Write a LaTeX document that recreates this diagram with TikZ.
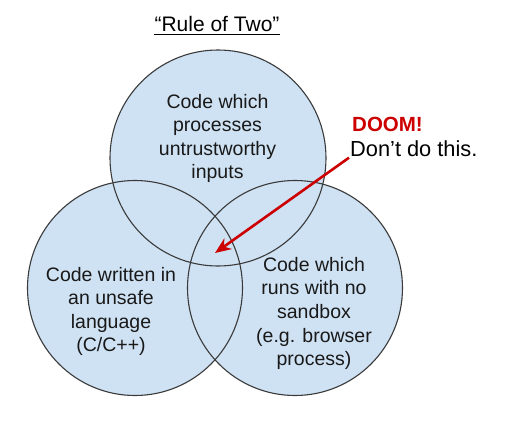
\documentclass[tikz,border=0pt]{standalone}
\usepackage{fontspec}
\setmainfont{Liberation Sans}
\usetikzlibrary{arrows.meta}
\definecolor{vennfill}{HTML}{CFE2F3}
\definecolor{venndraw}{HTML}{3A3A3A}
\definecolor{doomred}{HTML}{CC0000}
\begin{document}
\begin{tikzpicture}[x=1pt,y=-1pt,
  vennfillstyle/.style={fill=vennfill},
  venndrawstyle/.style={draw=venndraw,line width=1.1pt},
  circletext/.style={align=center,inner sep=0pt,text=black!90,font=\fontsize{19.5}{23.6}\selectfont},
  bigtext/.style={inner sep=0pt,font=\fontsize{21}{25}\selectfont},
  doomarrow/.style={draw=doomred,line width=2.6pt,-{Stealth[length=16pt,width=13pt,inset=5pt]}}
]
\useasboundingbox (0,0) rectangle (530,442);
% fills
\fill[vennfillstyle] (218,158) circle[radius=108pt];
\fill[vennfillstyle] (135,288) circle[radius=107.5pt];
\fill[vennfillstyle] (295,288) circle[radius=107.5pt];
% outlines
\draw[venndrawstyle] (218,158) circle[radius=108pt];
\draw[venndrawstyle] (135,288) circle[radius=107.5pt];
\draw[venndrawstyle] (295,288) circle[radius=107.5pt];
% title
\node[bigtext,anchor=base] (title) at (217,31.7) {“Rule of Two”};
\draw[line width=1.2pt] ([yshift=-2.8pt]title.base west) -- ([yshift=-2.8pt]title.base east);
% circle texts
\node[circletext] (toptext) at (217.5,138.5) {Code which\\processes\\untrustworthy\\inputs};
\node[circletext] (lefttext) at (111,311.5) {Code written in\\an unsafe\\language\\(C/C++)};
\node[circletext] (righttext) at (314,313.5) {Code which\\runs with no\\sandbox\\(e.g. browser\\process)};
% doom
\node[bigtext,anchor=base west,text=doomred,font=\fontsize{20.5}{25}\selectfont\bfseries] (doom) at (352,131) {DOOM!};
\node[bigtext,anchor=base west,font=\fontsize{21.8}{25}\selectfont] (dont) at (350,156.7) {Don’t do this.};
\coordinate (tip) at (215,253);
\draw[doomarrow] ([xshift=-1pt,yshift=-1pt]dont.base west) -- (tip);
\end{tikzpicture}
\end{document}
